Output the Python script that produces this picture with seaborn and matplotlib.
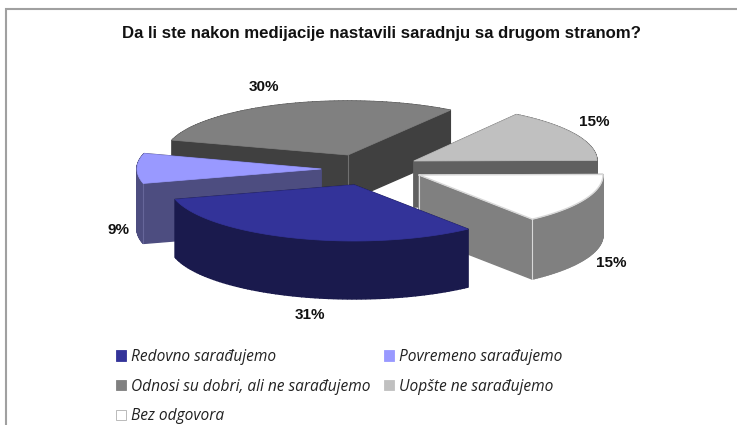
import numpy as np
import seaborn as sns
import matplotlib.pyplot as plt
from matplotlib.patches import Patch

title = "Da li ste nakon medijacije nastavili saradnju sa drugom stranom?"
categories = ["Redovno sarađujemo", "Povremeno sarađujemo", "Odnosi su dobri, ali ne sarađujemo",
              "Uopšte ne sarađujemo", "Bez odgovora"]
values = [31.4, 8.6, 30.0, 15.4, 14.6]

top_colors = sns.color_palette(["#333399", "#9999ff", "#808080", "#c0c0c0", "#ffffff"])
wall_colors = sns.color_palette(["#1a1a4d", "#4d4d80", "#404040", "#606060", "#808080"])
edge_colors = ["#1a1a4d", "#66669a", "#707070", "#606060", "#d8d8d8"]

# layout of the fake 3d pie, in pixels
start_angle = -52
rx = [185, 184, 183, 183, 184]
ry = [56, 56, 54, 56, 56]
center = (384, 169)
explode = [(-30, 16), (-63, 0), (-36, -14), (30, -8), (35, 6)]
depth = [58, 60, 46, 46, 60]
corners = [[], [1], [0], [], [0, -2]]
draw_order = [2, 3, 1, 4, 0]
label_pos = [(310, 315), (119, 230), (264, 87), (594, 122), (611, 263)]

sns.set_theme(style="white")
plt.rcParams["font.family"] = ["Liberation Sans", "DejaVu Sans"]

fig = plt.figure(figsize=(7.37, 4.25), dpi=100)
ax = fig.add_axes([0, 0, 1, 1])
ax.set_xlim(0, 737)
ax.set_ylim(425, 0)
ax.axis("off")

# chart border, cut off at the right and at the bottom
ax.plot([6.5, 6.5, 737], [425, 8.5, 8.5], color="#a0a0a0", lw=1.5, solid_joinstyle="miter")

ax.text(381.5, 33, title, ha="center", va="center", fontsize=12.1, fontweight="bold", color="#111111")

# clockwise from start_angle
ends = start_angle - 3.6 * np.cumsum(values)
starts = ends + 3.6 * np.array(values)

for z, i in enumerate(draw_order):
    ang = np.radians(np.linspace(starts[i], ends[i], 80))
    ax_x = center[0] + explode[i][0]
    ax_y = center[1] + explode[i][1]
    xs = np.concatenate([[ax_x], ax_x + rx[i] * np.cos(ang), [ax_x]])
    ys = np.concatenate([[ax_y], ax_y - ry[i] * np.sin(ang), [ax_y]])
    d = depth[i]
    # side walls, one quad per outline step
    for k in range(len(xs) - 1):
        ax.fill([xs[k], xs[k + 1], xs[k + 1], xs[k]],
                [ys[k], ys[k + 1], ys[k + 1] + d, ys[k] + d],
                color=wall_colors[i], lw=1, zorder=z + 2)
    for k in corners[i]:
        ax.plot([xs[k], xs[k]], [ys[k], ys[k] + d], color=edge_colors[i], lw=0.8, zorder=z + 2)
    ax.fill(xs, ys, color=top_colors[i], lw=0.5, zorder=z + 2)
    if i == 4:
        ax.plot(xs, ys, color=edge_colors[i], lw=1, zorder=z + 2)

for pos, v in zip(label_pos, values):
    ax.text(pos[0], pos[1], f"{v:.0f}%", ha="center", va="center", fontsize=11, fontweight="bold",
            color="#111111", zorder=10)

handles = [Patch(facecolor=c, edgecolor="#b0b0b0" if c == (1, 1, 1) else c, lw=0.6) for c in top_colors]
order = [0, 2, 4, 1, 3]
ax.legend([handles[i] for i in order], [categories[i] for i in order], ncol=2, frameon=False,
          loc="upper left", bbox_to_anchor=(116 / 737, 1 - 349 / 425), borderaxespad=0, borderpad=0,
          handlelength=0.65, handleheight=0.65, handletextpad=0.3, columnspacing=0.9, labelspacing=0.88,
          prop={"family": "Open Sans", "style": "italic", "size": 11.2}, labelcolor="#222222")

fig.savefig("out.png", dpi=100)
